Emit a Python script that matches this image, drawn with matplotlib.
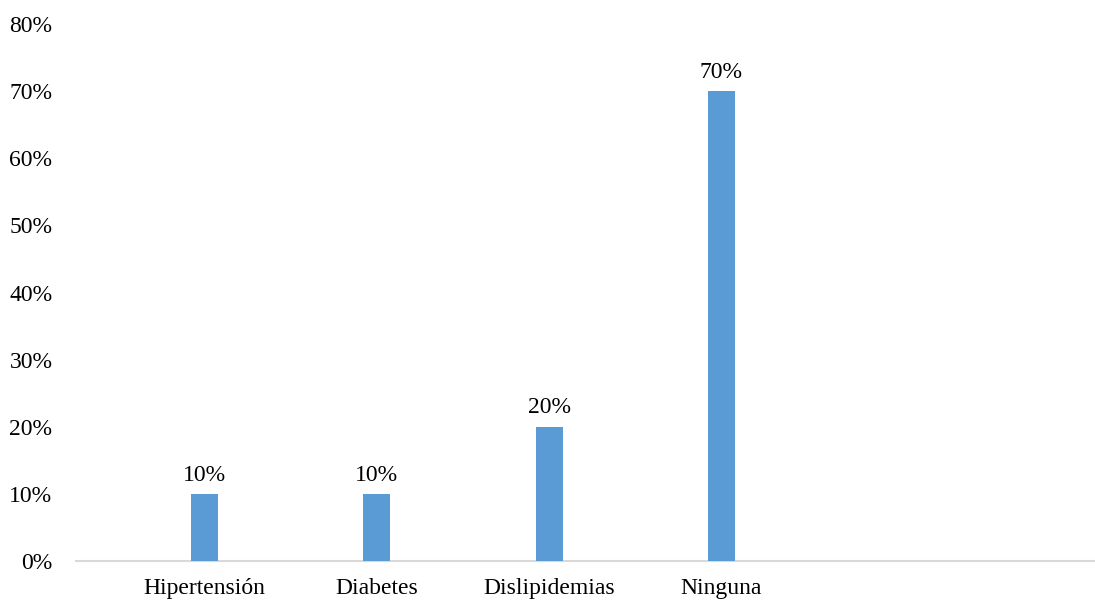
import matplotlib
matplotlib.use("Agg")
import matplotlib.pyplot as plt

categories = ["Hipertensión", "Diabetes", "Dislipidemias", "Ninguna"]
values = [0.10, 0.10, 0.20, 0.70]
yticks = [0, 0.1, 0.2, 0.3, 0.4, 0.5, 0.6, 0.7, 0.8]

plt.rcParams['font.family'] = ['Liberation Serif', 'DejaVu Serif']

fig = plt.figure(figsize=(10.95, 6.02), dpi=100)
ax = fig.add_axes([76/1095, 1 - 561/602, 1 - 76/1095, (561 - 24)/602])

x = list(range(len(categories)))
bars = ax.bar(x, values, width=0.157, color="#5B9BD5", zorder=3)

fs = 17
for xi, v in zip(x, values):
    ax.annotate(f"{v*100:.0f}%", (xi, v), xytext=(0, 6), textcoords="offset points",
                ha="center", va="bottom", fontsize=fs, color="#000000")

ax.set_ylim(0, 0.8)
ax.set_yticks(yticks)
ax.set_yticklabels([f"{t*100:.0f}%" for t in yticks], fontsize=fs)
ax.set_xlim(-0.7458, 5.168)
ax.set_xticks(x)
ax.set_xticklabels(categories, fontsize=fs)

for s in ["top", "right", "left"]:
    ax.spines[s].set_visible(False)
ax.spines["bottom"].set_color("#d9d9d9")
ax.spines["bottom"].set_linewidth(1.5)
ax.tick_params(axis="y", length=0, pad=17)
ax.tick_params(axis="x", length=0, pad=12)

fig.savefig("out.png", dpi=100)
